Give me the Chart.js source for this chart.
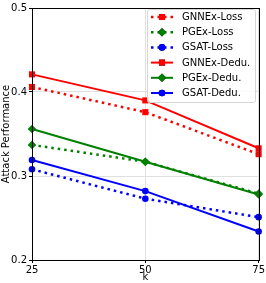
<!DOCTYPE html>
<html><head><meta charset="utf-8">
<script src="https://cdn.jsdelivr.net/npm/chart.js@4"></script>
<style>html,body{margin:0;padding:0;background:#fff}#c{display:block}</style>
</head><body>
<canvas id="c" width="266" height="283"></canvas>
<script>
const kValues = [25, 50, 75];
const yTicks = [0.2, 0.3, 0.4, 0.5];
const gnnexLoss = [0.406, 0.376, 0.326];
const pgexLoss  = [0.337, 0.317, 0.279];
const gsatLoss  = [0.308, 0.273, 0.251];
const gnnexDedu = [0.421, 0.390, 0.333];
const pgexDedu  = [0.356, 0.317, 0.278];
const gsatDedu  = [0.319, 0.282, 0.234];

const FONT = "'DejaVu Sans', sans-serif";
function mk(label, vals, color, shape, dotted) {
  return {
    label, data: vals.map((v, i) => ({x: kValues[i], y: v})),
    borderColor: color, backgroundColor: color,
    borderWidth: dotted ? 2.5 : 2, borderDash: dotted ? [2.5, 4] : [],
    pointStyle: shape, pointRadius: shape === 'circle' ? 3.3 : (shape === 'rect' ? 4.3 : 4.3),
    pointBorderWidth: 0, tension: 0, clip: false
  };
}
const datasets = [
  mk('GNNEx-Loss', gnnexLoss, '#ff0000', 'rect', true),
  mk('PGEx-Loss', pgexLoss, '#008000', 'rectRot', true),
  mk('GSAT-Loss', gsatLoss, '#0000ff', 'circle', true),
  mk('GNNEx-Dedu.', gnnexDedu, '#ff0000', 'rect', false),
  mk('PGEx-Dedu.', pgexDedu, '#008000', 'rectRot', false),
  mk('GSAT-Dedu.', gsatDedu, '#0000ff', 'circle', false)
];

const legendPlugin = {
  id: 'boxLegend',
  afterDraw(chart) {
    const ctx = chart.ctx;
    ctx.save();
    const bx = 147, by = 9, bw = 108, bh = 93;
    ctx.beginPath();
    ctx.roundRect(bx + 0.5, by + 0.5, bw, bh, 2);
    ctx.fillStyle = 'rgba(255,255,255,0.8)';
    ctx.fill();
    ctx.strokeStyle = '#d6d6d6';
    ctx.lineWidth = 1;
    ctx.stroke();
    chart.data.datasets.forEach((ds, i) => {
      const y = 17 + i * 15.2;
      ctx.beginPath();
      ctx.setLineDash(ds.borderDash);
      ctx.lineWidth = ds.borderWidth;
      ctx.strokeStyle = ds.borderColor;
      ctx.moveTo(151, y); ctx.lineTo(173, y);
      ctx.stroke();
      ctx.setLineDash([]);
      Chart.helpers.drawPoint(ctx, {pointStyle: ds.pointStyle, radius: ds.pointRadius, borderWidth: 0, rotation: 0}, 162, y);
      ctx.fillStyle = ds.borderColor;
      ctx.fill();
      ctx.fillStyle = '#000';
      ctx.font = '10px ' + FONT;
      ctx.textBaseline = 'middle';
      ctx.textAlign = 'left';
      ctx.fillText(ds.label, 182, y + 0.5);
    });
    ctx.restore();
  }
};

const borderPlugin = {
  id: 'frame',
  afterDatasetsDraw(chart) {
    const a = chart.chartArea, ctx = chart.ctx;
    ctx.save();
    ctx.strokeStyle = '#000'; ctx.lineWidth = 1;
    ctx.strokeRect(Math.round(a.left) + 0.5, Math.round(a.top) + 0.5, Math.round(a.right - a.left), Math.round(a.bottom - a.top));
    ctx.restore();
  }
};

new Chart(document.getElementById('c'), {
  type: 'line',
  data: { datasets },
  options: {
    responsive: false, animation: false,
    layout: { padding: { top: 4, right: 6, left: 0, bottom: 0 } },
    plugins: { legend: { display: false }, tooltip: { enabled: false } },
    scales: {
      x: {
        type: 'linear', min: 25, max: 75,
        afterBuildTicks: s => { s.ticks = kValues.map(v => ({value: v})); },
        afterFit: s => { s.height = 23; },
        grid: { color: '#e0e0e0', tickLength: 3, tickColor: '#000', drawTicks: true },
        border: { display: false },
        ticks: { color: '#000', font: { family: FONT, size: 10 }, padding: 1, maxRotation: 0 },
        title: { display: true, text: 'k', color: '#000', font: { family: FONT, size: 10 }, padding: 0 }
      },
      y: {
        min: 0.2, max: 0.5,
        afterBuildTicks: s => { s.ticks = yTicks.map(v => ({value: v})); },
        afterFit: s => { s.width = 32; },
        grid: { color: '#e0e0e0', tickLength: 3, tickColor: '#000' },
        border: { display: false },
        ticks: { color: '#000', font: { family: FONT, size: 10 }, padding: 2, callback: v => v.toFixed(1) },
        title: { display: true, text: 'Attack Performance', color: '#000', font: { family: FONT, size: 10 }, padding: { top: 0, bottom: 0 } }
      }
    }
  },
  plugins: [borderPlugin, legendPlugin]
});
</script>
</body></html>
